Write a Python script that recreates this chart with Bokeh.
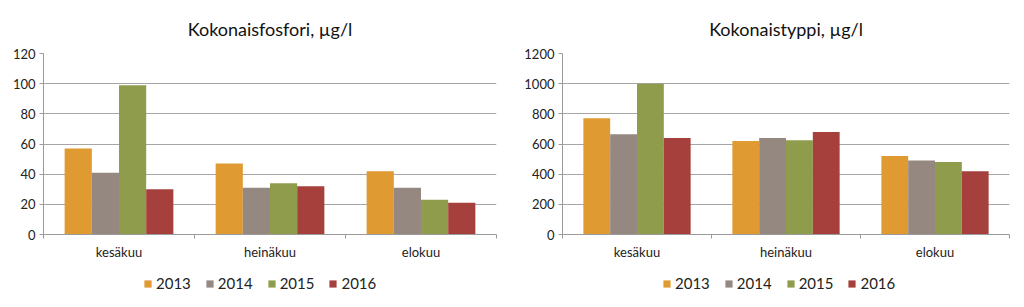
import numpy as np
from bokeh.plotting import figure
from bokeh.layouts import row, column
from bokeh.models import ColumnDataSource, FixedTicker, Legend, LegendItem, Range1d
from bokeh.embed import file_html
from bokeh.resources import INLINE

months = ["kesäkuu", "heinäkuu", "elokuu"]
years = ["2013", "2014", "2015", "2016"]
colors = ["#E09A32", "#948880", "#8E9C4C", "#A5403C"]

# Kokonaisfosfori, µg/l
p_2013 = [57, 47, 42]
p_2014 = [41, 31, 31]
p_2015 = [99, 34, 23]
p_2016 = [30, 32, 21]

# Kokonaistyppi, µg/l
n_2013 = [770, 620, 520]
n_2014 = [665, 640, 490]
n_2015 = [1000, 625, 480]
n_2016 = [640, 680, 420]

FONT = "Lato"


def make_chart(title, series, ymax, ystep, left_border, right_border):
    p = figure(width=512, height=268, output_backend="svg", toolbar_location=None,
               x_range=Range1d(0, len(months)), y_range=Range1d(0, ymax),
               min_border_left=left_border, min_border_right=right_border,
               min_border_top=53, min_border_bottom=34,
               title=title)
    p.title.align = "center"
    p.title.text_font = FONT
    p.title.text_font_size = "18px"
    p.title.text_font_style = "normal"
    p.title.text_color = "#111111"
    p.title.standoff = 27
    p.outline_line_color = None
    p.background_fill_color = "white"
    p.border_fill_color = "white"

    bw = 0.18
    centers = np.arange(len(months)) + 0.5
    for j, (yr, vals, col) in enumerate(zip(years, series, colors)):
        src = ColumnDataSource(dict(x=centers + (j - 1.5) * bw, top=vals))
        p.vbar(x="x", top="top", width=bw, bottom=0, source=src,
               fill_color=col, line_color=None)

    xa = p.xaxis[0]
    xa.ticker = FixedTicker(ticks=list(centers), minor_ticks=list(range(len(months) + 1)))
    xa.major_label_overrides = {float(c): m for c, m in zip(centers, months)}
    xa.major_tick_line_color = None
    xa.major_tick_in = 0
    xa.major_tick_out = 0
    xa.minor_tick_line_color = "#9a9a9a"
    xa.minor_tick_in = 0
    xa.minor_tick_out = 4
    xa.axis_line_color = "#9a9a9a"
    xa.major_label_text_font = FONT
    xa.major_label_text_font_size = "13px"
    xa.major_label_text_color = "#222222"
    xa.major_label_standoff = 5

    ya = p.yaxis[0]
    ya.ticker = FixedTicker(ticks=list(range(0, ymax + 1, ystep)))
    ya.axis_line_color = "#9a9a9a"
    ya.major_tick_line_color = "#9a9a9a"
    ya.major_tick_in = 0
    ya.major_tick_out = 4
    ya.minor_tick_line_color = None
    ya.major_label_text_font = FONT
    ya.major_label_text_font_size = "13px"
    ya.major_label_text_color = "#222222"
    ya.major_label_standoff = 4

    p.xgrid.grid_line_color = None
    p.ygrid.grid_line_color = "#a6a6a6"
    p.ygrid.grid_line_width = 1

    # legend in its own strip below the chart (swatches use off-range dummy glyphs)
    lg = figure(width=512, height=39, output_backend="svg", toolbar_location=None,
                x_axis_type=None, y_axis_type=None,
                min_border_left=0, min_border_right=0, min_border_top=0, min_border_bottom=0,
                x_range=Range1d(0, 1), y_range=Range1d(0, 1))
    lg.outline_line_color = None
    lg.xgrid.grid_line_color = None
    lg.ygrid.grid_line_color = None
    items = []
    for yr, col in zip(years, colors):
        r = lg.vbar(x=[-5], top=[-5], bottom=[-6], width=0.1, fill_color=col, line_color=None)
        items.append(LegendItem(label=yr, renderers=[r]))
    legend = Legend(items=items, orientation="horizontal", location=(100, 15),
                    label_text_font=FONT, label_text_font_size="15px",
                    label_text_color="#222222",
                    glyph_width=9, glyph_height=9, label_standoff=4, spacing=14,
                    background_fill_alpha=0, border_line_color=None,
                    padding=0, margin=0)
    lg.add_layout(legend, "center")
    return column(p, lg, spacing=0)


c1 = make_chart("Kokonaisfosfori, µg/l", [p_2013, p_2014, p_2015, p_2016], 120, 20, 43, 16)
c2 = make_chart("Kokonaistyppi, µg/l", [n_2013, n_2014, n_2015, n_2016], 1200, 200, 50, 15)

layout = row(c1, c2, spacing=0)
open("out.html", "w").write(file_html(layout, INLINE))
